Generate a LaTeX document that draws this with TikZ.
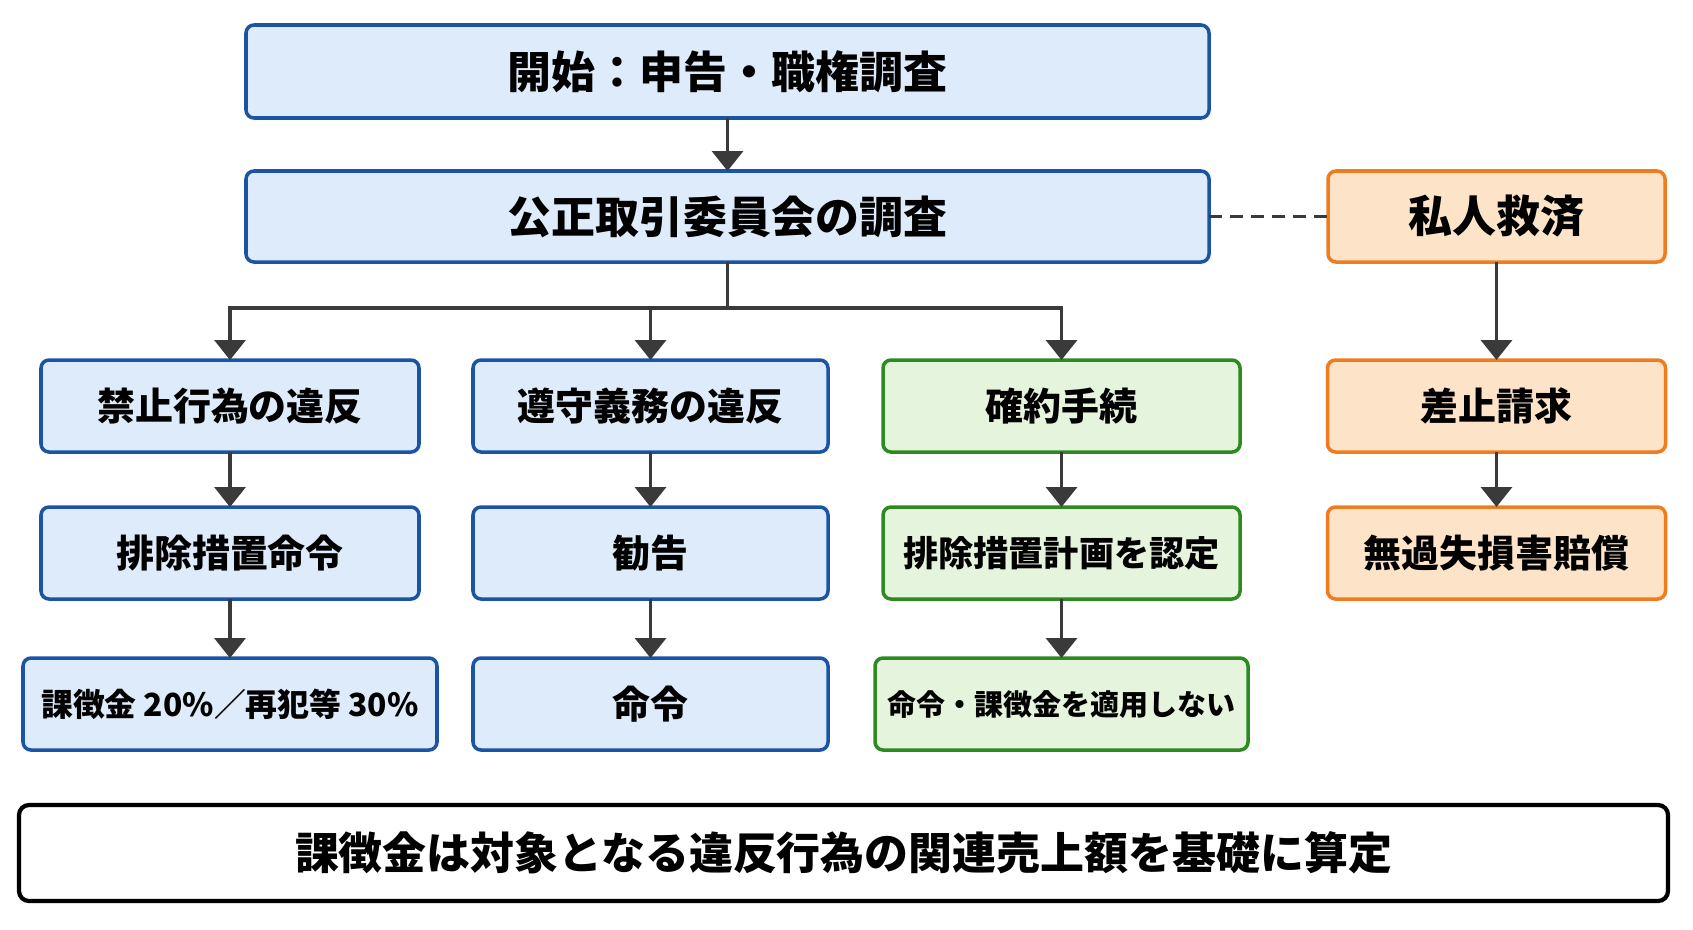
\documentclass[tikz,border=0pt]{standalone}
\usepackage{fontspec}
\newfontfamily\jpfont{Noto Sans CJK JP}
\usepackage{tikz}
\usetikzlibrary{positioning}
\usetikzlibrary{calc}
\usetikzlibrary{arrows.meta}
\definecolor{jfblue}{RGB}{27,84,165}
\definecolor{jfbluefill}{RGB}{221,235,251}
\definecolor{jfgreen}{RGB}{44,138,32}
\definecolor{jfgreenfill}{RGB}{229,244,220}
\definecolor{jforange}{RGB}{240,124,32}
\definecolor{jforangefill}{RGB}{253,227,200}
\definecolor{arrowgray}{RGB}{58,58,58}

\begin{document}
\begin{tikzpicture}[
    stagebox/.style={rounded corners=0.16cm, line width=2pt, inner sep=0pt, outer sep=0pt,
      minimum height=1.84cm, align=center,
      font=\jpfont\bfseries\fontsize{21.6}{26}\selectfont},
    bluebox/.style={stagebox, draw=jfblue, fill=jfbluefill},
    greenbox/.style={stagebox, draw=jfgreen, fill=jfgreenfill},
    orangebox/.style={stagebox, draw=jforange, fill=jforangefill},
    bigtext/.style={font=\jpfont\bfseries\fontsize{25}{30}\selectfont},
    arrow/.style={-{Triangle[width=0.62cm,length=0.4cm]}, draw=arrowgray, line width=2pt},
  ]
  \useasboundingbox (0,0) rectangle (33.86,-18.58);
        % nodes %
        \node[bluebox, bigtext, minimum width=19.26cm, minimum height=1.86cm] (start) at (14.55,-1.43) {開始：申告・職権調査};
        \node[bluebox, bigtext, minimum width=19.26cm, minimum height=1.82cm, below=1.06 of start] (jftc) {公正取引委員会の調査};
        \node[orangebox, bigtext, minimum width=6.74cm, minimum height=1.82cm, right=2.38 of jftc] (private) {私人救済};

        \node[bluebox, minimum width=7.56cm] (prohib) at (4.6,-8.12) {禁止行為の違反};
        \node[bluebox, minimum width=7.56cm, below=1.1 of prohib] (cease) {排除措置命令};
        \node[bluebox, minimum width=8.28cm, below=1.18 of cease, font=\jpfont\bfseries\fontsize{18.1}{22}\selectfont] (surcharge) {課徴金 20\%／再犯等 30\%};

        \node[bluebox, minimum width=7.1cm] (duty) at (13.01,-8.12) {遵守義務の違反};
        \node[bluebox, minimum width=7.1cm, below=1.1 of duty] (recomm) {勧告};
        \node[bluebox, minimum width=7.1cm, below=1.18 of recomm] (order) {命令};

        \node[greenbox, minimum width=7.14cm] (commit) at (21.23,-8.12) {確約手続};
        \node[greenbox, minimum width=7.14cm, below=1.1 of commit, font=\jpfont\bfseries\fontsize{20}{24}\selectfont] (plan) {排除措置計画を認定};
        \node[greenbox, minimum width=7.46cm, below=1.18 of plan, font=\jpfont\bfseries\fontsize{16.5}{20}\selectfont] (noapply) {命令・課徴金を適用しない};

        \node[orangebox, minimum width=6.76cm, below=1.96 of private] (injunct) {差止請求};
        \node[orangebox, minimum width=6.76cm, below=1.1 of injunct] (damages) {無過失損害賠償};

        \node[bigtext, draw=black, fill=white, line width=2.4pt, rounded corners=0.2cm, minimum width=32.98cm, minimum height=1.92cm] (note) at (16.87,-17.06) {課徴金は対象となる違反行為の関連売上額を基礎に算定};

        % edges %
        \coordinate (split) at ($(jftc.south)+(0,-0.92)$);
        \draw[arrow] (start) -- (jftc);
        \draw[draw=arrowgray, line width=2pt] (jftc.south) -- (split);
        \draw[arrow] (split) -| (prohib.north);
        \draw[arrow] (split) -| (duty.north);
        \draw[arrow] (split) -| (commit.north);
        \draw[draw=arrowgray, line width=2.2pt, dash pattern=on 0.26cm off 0.16cm] (jftc) -- (private);

        \draw[arrow] (prohib) -- (cease);
        \draw[arrow] (cease) -- (surcharge);
        \draw[arrow] (duty) -- (recomm);
        \draw[arrow] (recomm) -- (order);
        \draw[arrow] (commit) -- (plan);
        \draw[arrow] (plan) -- (noapply);
        \draw[arrow] (private) -- (injunct);
        \draw[arrow] (injunct) -- (damages);
\end{tikzpicture}
\end{document}
